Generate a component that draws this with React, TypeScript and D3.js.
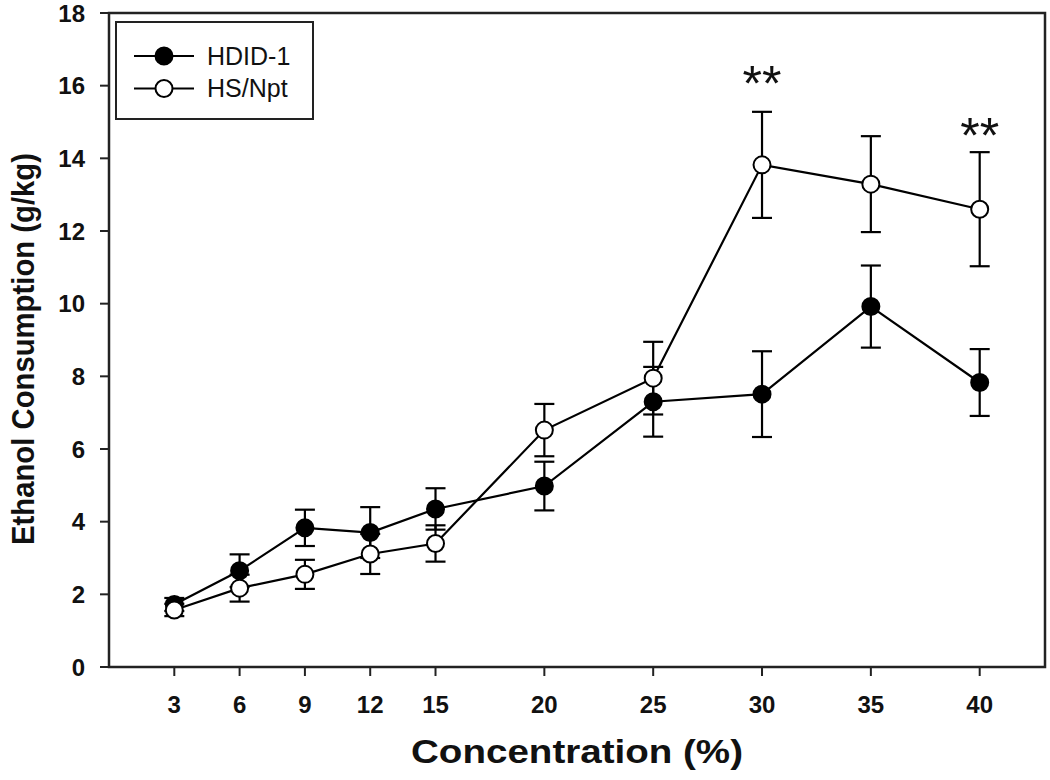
import React from "react";
import * as d3 from "d3";

const concentrations = [3, 6, 9, 12, 15, 20, 25, 30, 35, 40];
const hdidMean = [1.72, 2.65, 3.83, 3.7, 4.35, 4.98, 7.3, 7.51, 9.92, 7.83];
const hdidSem = [0.18, 0.45, 0.5, 0.7, 0.57, 0.67, 0.96, 1.18, 1.13, 0.92];
const hsMean = [1.57, 2.17, 2.55, 3.11, 3.4, 6.52, 7.95, 13.82, 13.29, 12.6];
const hsSem = [0.17, 0.37, 0.4, 0.55, 0.5, 0.72, 1.0, 1.46, 1.32, 1.57];
const yTicks = [0, 2, 4, 6, 8, 10, 12, 14, 16, 18];
const significantX = [30, 40];
const significantY = [16.35, 14.92];
const seriesNames = ["HDID-1", "HS/Npt"];

const W = 1050;
const H = 780;
const L = 109, R = 1045, T = 13, B = 667;
const FONT = "'Liberation Sans', Arial, Helvetica, sans-serif";

export default function App() {
  const x = d3.scaleLinear().domain([0, 43]).range([L, R]);
  const y = d3.scaleLinear().domain([0, 18]).range([B, T]);
  const line = d3
    .line<[number, number]>()
    .x((d) => x(d[0]))
    .y((d) => y(d[1]));

  const series = [
    { name: seriesNames[0], mean: hdidMean, sem: hdidSem, fill: "#000" },
    { name: seriesNames[1], mean: hsMean, sem: hsSem, fill: "#fff" },
  ];
  const r = 8.5;
  const cap = 10;

  return (
    <svg
      width={W}
      height={H}
      style={{ position: "absolute", left: 0, top: 0, background: "#fff" }}
      fontFamily={FONT}
    >
      {series.map((s, si) => (
        <g key={si}>
          {concentrations.map((c, i) => {
            const cx = x(c);
            const y1 = y(s.mean[i] + s.sem[i]);
            const y0 = y(s.mean[i] - s.sem[i]);
            return (
              <g key={i} stroke="#000" strokeWidth={2.2}>
                <line x1={cx} x2={cx} y1={y1} y2={y0} />
                <line x1={cx - cap} x2={cx + cap} y1={y1} y2={y1} />
                <line x1={cx - cap} x2={cx + cap} y1={y0} y2={y0} />
              </g>
            );
          })}
          <path
            d={line(concentrations.map((c, i) => [c, s.mean[i]] as [number, number])) || ""}
            fill="none"
            stroke="#000"
            strokeWidth={2.2}
          />
          {concentrations.map((c, i) => (
            <circle
              key={i}
              cx={x(c)}
              cy={y(s.mean[i])}
              r={r}
              fill={s.fill}
              stroke="#000"
              strokeWidth={2}
            />
          ))}
        </g>
      ))}

      {/* frame */}
      <rect x={L} y={T} width={R - L} height={B - T} fill="none" stroke="#222" strokeWidth={2.5} />

      {/* y axis ticks */}
      {yTicks.map((t) => (
        <g key={t}>
          <line x1={L - 9} x2={L} y1={y(t)} y2={y(t)} stroke="#222" strokeWidth={2} />
          <text
            x={85}
            y={y(t)}
            dy="0.36em"
            textAnchor="end"
            fontSize={24}
            fontWeight="bold"
            fill="#111"
          >
            {t}
          </text>
        </g>
      ))}

      {/* x axis ticks */}
      {concentrations.map((c) => (
        <g key={c}>
          <line x1={x(c)} x2={x(c)} y1={B} y2={B + 9} stroke="#222" strokeWidth={2} />
          <text
            x={x(c)}
            y={713}
            textAnchor="middle"
            fontSize={24}
            fontWeight="bold"
            fill="#111"
          >
            {c}
          </text>
        </g>
      ))}

      {/* significance */}
      {significantX.map((c, i) => (
        <text
          key={c}
          x={x(c)}
          y={y(significantY[i]) + 28}
          textAnchor="middle"
          fontSize={50}
          fill="#111"
        >
          **
        </text>
      ))}

      {/* axis titles */}
      <text
        x={(L + R) / 2}
        y={763}
        textAnchor="middle"
        fontSize={34}
        fontWeight="bold"
        fill="#111"
        textLength={332}
        lengthAdjust="spacingAndGlyphs"
      >
        Concentration (%)
      </text>
      <text
        transform={`translate(34, 349) rotate(-90)`}
        textAnchor="middle"
        fontSize={31}
        fontWeight="bold"
        fill="#111"
        textLength={392}
        lengthAdjust="spacingAndGlyphs"
      >
        Ethanol Consumption (g/kg)
      </text>

      {/* legend */}
      <rect x={116} y={22} width={197} height={97} fill="#fff" stroke="#222" strokeWidth={2} />
      {series.map((s, i) => {
        const ly = 56 + i * 32.5;
        return (
          <g key={i}>
            <line x1={134} x2={194} y1={ly} y2={ly} stroke="#000" strokeWidth={2} />
            <circle cx={164} cy={ly} r={r} fill={s.fill} stroke="#000" strokeWidth={2} />
            <text x={207} y={ly + 8.5} fontSize={25} fill="#111">
              {s.name}
            </text>
          </g>
        );
      })}
    </svg>
  );
}
